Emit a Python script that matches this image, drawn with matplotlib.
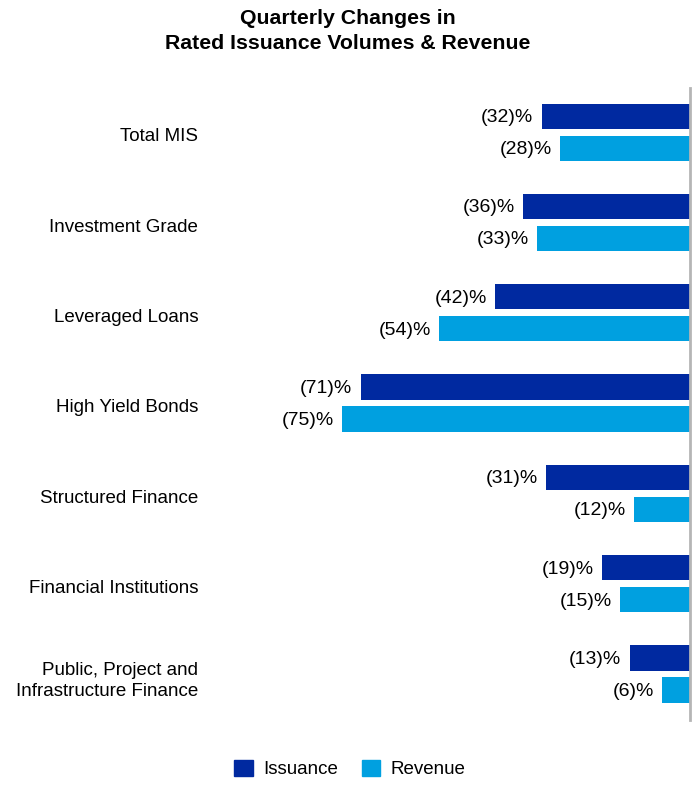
import matplotlib
matplotlib.use("Agg")
import matplotlib.pyplot as plt
from matplotlib.patches import Patch

plt.rcParams['font.family'] = ['Liberation Sans', 'DejaVu Sans']

categories = ["Total MIS", "Investment Grade", "Leveraged Loans", "High Yield Bonds",
              "Structured Finance", "Financial Institutions",
              "Public, Project and\nInfrastructure Finance"]
issuance = [-32, -36, -42, -71, -31, -19, -13]
revenue = [-28, -33, -54, -75, -12, -15, -6]
series_names = ["Issuance", "Revenue"]
colors = ["#0029A0", "#00A0E0"]

fig = plt.figure(figsize=(7, 8), dpi=100)
W, H = 700, 800
left, right, top, bottom = 226, 690, 88, 720
ax = fig.add_axes([left / W, 1 - bottom / H, (right - left) / W, (bottom - top) / H])

ys = list(range(len(categories)))
bh = 0.28
off = 0.177
ax.barh([y - off for y in ys], issuance, height=bh, color=colors[0])
ax.barh([y + off for y in ys], revenue, height=bh, color=colors[1])

for y, v in zip(ys, issuance):
    ax.annotate(f"({abs(v)})%", (v, y - off), xytext=(-6, -1), textcoords="offset points",
                ha="right", va="center", fontsize=14)
for y, v in zip(ys, revenue):
    ax.annotate(f"({abs(v)})%", (v, y + off), xytext=(-6, -1), textcoords="offset points",
                ha="right", va="center", fontsize=14)

ax.set_xlim(-100, 0)
ax.set_ylim(len(categories) - 0.5 + 0.01, -0.5 + 0.01)
ax.set_yticks([y + 0.03 for y in ys])
ax.set_yticklabels(categories, fontsize=13.5, ha="right", linespacing=1.35)
ax.tick_params(axis="y", length=0, pad=20)
ax.set_xticks([])
for s in ["top", "left", "bottom"]:
    ax.spines[s].set_visible(False)
ax.spines["right"].set_color("#b5b5b5")
ax.spines["right"].set_linewidth(2)

fig.text(348 / W, 1 - 31 / H, "Quarterly Changes in\nRated Issuance Volumes & Revenue",
         ha="center", va="center", fontsize=15.3, fontweight="bold", linespacing=1.45)

handles = [Patch(facecolor=c, edgecolor=c) for c in colors]
fig.legend(handles, series_names, loc="center", bbox_to_anchor=(350 / W, 1 - 769 / H),
           ncol=2, frameon=False, fontsize=13.5, handlelength=1.0, handleheight=1.0,
           columnspacing=1.25, handletextpad=0.55)

fig.savefig("out.png", dpi=100)
